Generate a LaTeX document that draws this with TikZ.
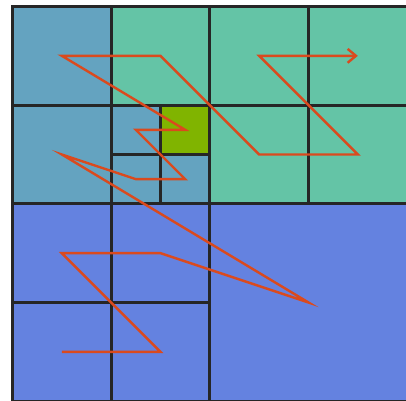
\documentclass[tikz,border=0pt]{standalone}
\usetikzlibrary{arrows.meta}

\definecolor{cellblue}{HTML}{64A3C0}
\definecolor{cellgreen}{HTML}{64C4A6}
\definecolor{cellolive}{HTML}{80B400}
\definecolor{cellpurple}{HTML}{6482E0}
\definecolor{zcurve}{HTML}{DA4A1E}

\begin{document}
\begin{tikzpicture}[
  cell/.style={draw=black!85, line width=0.8pt},
  zpath/.style={draw=zcurve, line width=0.7pt, line join=miter}
]
\useasboundingbox (-0.127,0.002) rectangle (3.988,4.066);

% Cell fills
\fill[cellpurple] (0,0) rectangle (4,2);
\fill[cellblue] (0,2) rectangle (2,4);
\fill[cellgreen] (1,3) rectangle (2,4);
\fill[cellgreen] (2,2) rectangle (4,4);
\fill[cellolive] (1.5,2.5) rectangle (2,3);

% Quadtree borders
\draw[cell] (0,0) rectangle (4,4);
\draw[cell] (0,2) -- (4,2) (2,0) -- (2,4);
\draw[cell] (0,1) -- (2,1) (1,0) -- (1,2);
\draw[cell] (0,3) -- (4,3) (1,2) -- (1,4) (3,2) -- (3,4);
\draw[cell] (1,2.5) -- (2,2.5) (1.5,2) -- (1.5,3);

% Leaf centres in Z order
\foreach \name/\cx/\cy in {z1/0.5/0.5, z2/1.5/0.5, z3/0.5/1.5, z4/1.5/1.5,
                           z5/3/1, z6/0.5/2.5, z7/1.25/2.25, z8/1.75/2.25,
                           z9/1.25/2.75, z10/1.75/2.75, z11/0.5/3.5, z12/1.5/3.5,
                           z13/2.5/2.5, z14/3.5/2.5, z15/2.5/3.5, z16/3.5/3.5}
  \coordinate (\name) at (\cx,\cy);

% Z-order curve
\draw[zpath, -{Straight Barb[length=2.4pt,width=4pt]}]
  (z1) -- (z2) -- (z3) -- (z4) -- (z5) -- (z6) -- (z7) -- (z8)
  -- (z9) -- (z10) -- (z11) -- (z12) -- (z13) -- (z14) -- (z15) -- (z16);

\end{tikzpicture}
\end{document}
